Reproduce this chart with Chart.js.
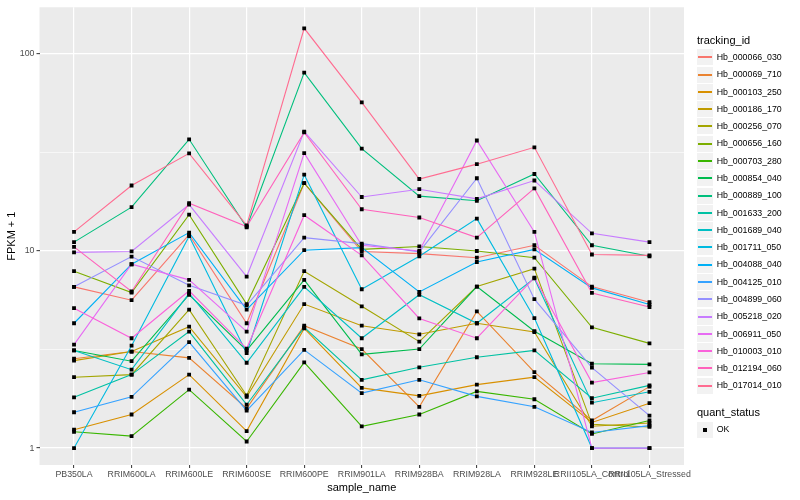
<!DOCTYPE html>
<html><head><meta charset="utf-8">
<script src="https://cdn.jsdelivr.net/npm/chart.js@4/dist/chart.umd.min.js"></script>
<style>
html,body{margin:0;padding:0;background:#fff;}
#wrap{position:relative;width:800px;height:500px;font-family:"Liberation Sans",Arial,Helvetica,sans-serif;overflow:hidden;}
#c{position:absolute;left:0;top:0;width:800px;height:500px;}
.lg{position:absolute;white-space:nowrap;color:#000;}
.key{position:absolute;background:#F2F2F2;}
.kl{position:absolute;}
</style></head><body>
<div id="wrap"><canvas id="c" width="800" height="500"></canvas><div id="legend"></div></div>
<script>
// ---------------- data ----------------
const categories = ['PB350LA','RRIM600LA','RRIM600LE','RRIM600SE','RRIM600PE','RRIM901LA','RRIM928BA','RRIM928LA','RRIM928LE','RRII105LA_Control','RRII105LA_Stressed'];

const Hb_000066_030 = [6.58, 5.63, 12.1, 4.3, 22.1, 9.94, 9.7, 9.25, 10.7, 6.6, 5.5];
const Hb_000069_710 = [2.84, 3.09, 2.87, 1.59, 4.18, 3.18, 1.62, 4.94, 2.43, 1.38, 2.05];
const Hb_000103_250 = [1.24, 1.48, 2.36, 1.22, 4.05, 2.02, 1.84, 2.10, 2.29, 1.35, 1.69];
const Hb_000186_170 = [2.78, 3.09, 4.13, 1.82, 5.38, 4.18, 3.78, 4.3, 3.88, 1.29, 1.34];
const Hb_000256_070 = [2.29, 2.36, 5.04, 1.85, 7.9, 5.24, 3.47, 6.6, 8.14, 1.32, 1.28];
const Hb_000656_160 = [7.9, 6.16, 15.3, 5.38, 22.1, 10.2, 10.55, 10.0, 9.25, 4.1, 3.4];
const Hb_000703_280 = [1.21, 1.15, 1.98, 1.08, 2.72, 1.29, 1.48, 1.94, 1.77, 1.18, 1.38];
const Hb_000854_040 = [3.13, 2.76, 6.0, 3.13, 7.14, 2.99, 3.18, 6.6, 3.92, 2.68, 2.66];
const Hb_000889_100 = [11.1, 16.7, 36.9, 13.2, 80.5, 33.1, 19.0, 18.0, 24.6, 10.7, 9.4];
const Hb_001633_200 = [1.81, 2.36, 3.9, 1.66, 4.1, 2.22, 2.57, 2.89, 3.13, 1.79, 2.08];
const Hb_001689_040 = [3.13, 2.50, 6.1, 2.71, 6.58, 3.61, 6.0, 4.3, 7.26, 1.70, 1.93];
const Hb_001711_050 = [1.0, 3.31, 11.9, 3.03, 24.4, 6.4, 9.4, 14.6, 4.57, 1.0, 1.0];
const Hb_004088_040 = [4.3, 8.57, 12.4, 5.04, 10.1, 10.4, 6.2, 8.8, 10.2, 6.5, 5.35];
const Hb_004125_010 = [1.52, 1.82, 3.45, 1.55, 3.15, 1.90, 2.22, 1.83, 1.62, 1.20, 1.30];
const Hb_004899_060 = [6.58, 9.37, 6.7, 5.3, 11.7, 10.9, 9.9, 23.4, 5.7, 2.56, 1.46];
const Hb_005218_020 = [9.85, 9.95, 17.2, 7.42, 40.4, 18.8, 20.6, 18.4, 22.8, 12.3, 11.1];
const Hb_006911_050 = [3.35, 8.57, 7.14, 3.9, 31.4, 10.7, 10.0, 36.4, 12.5, 1.0, 1.0];
const Hb_010003_010 = [5.13, 3.61, 6.28, 3.2, 15.2, 9.5, 4.55, 3.61, 7.33, 2.15, 2.42];
const Hb_012194_060 = [10.5, 6.23, 17.5, 13.3, 40, 16.3, 14.8, 11.7, 20.8, 6.13, 5.2];
const Hb_017014_010 = [12.5, 21.5, 31.3, 13.5, 135, 56.8, 23.2, 27.6, 33.6, 9.6, 9.5];

const trackingIds = ['Hb_000066_030','Hb_000069_710','Hb_000103_250','Hb_000186_170','Hb_000256_070','Hb_000656_160','Hb_000703_280','Hb_000854_040','Hb_000889_100','Hb_001633_200','Hb_001689_040','Hb_001711_050','Hb_004088_040','Hb_004125_010','Hb_004899_060','Hb_005218_020','Hb_006911_050','Hb_010003_010','Hb_012194_060','Hb_017014_010'];
const seriesValues = [Hb_000066_030,Hb_000069_710,Hb_000103_250,Hb_000186_170,Hb_000256_070,Hb_000656_160,Hb_000703_280,Hb_000854_040,Hb_000889_100,Hb_001633_200,Hb_001689_040,Hb_001711_050,Hb_004088_040,Hb_004125_010,Hb_004899_060,Hb_005218_020,Hb_006911_050,Hb_010003_010,Hb_012194_060,Hb_017014_010];
const seriesColors = ['#F8766D','#EA8331','#D89000','#C09B00','#A3A500','#7CAE00','#39B600','#00BB4E','#00BF7D','#00C1A3','#00BFC4','#00BAE0','#00B0F6','#35A2FF','#9590FF','#C77CFF','#E76BF3','#FA62DB','#FF62BC','#FF6C91'];

const yMajorBreaks = [1, 10, 100];
const yMajorLabels = ['1', '10', '100'];
const yMinorBreaks = [3.16228, 31.6228];
const quantStatus = ['OK'];

// ---------------- chart ----------------
const FONT = '"Liberation Sans", Arial, Helvetica, sans-serif';
const isMajor = v => yMajorBreaks.some(b => Math.abs(b - v) < 1e-6);

const panelBg = {
  id: 'panelBg',
  beforeDraw(chart) {
    const {ctx, chartArea: a} = chart;
    ctx.save();
    ctx.fillStyle = '#EBEBEB';
    ctx.fillRect(a.left, a.top, a.right - a.left, a.bottom - a.top);
    ctx.restore();
  }
};

const lineSets = trackingIds.map((id, i) => ({
  type: 'line',
  label: id,
  data: seriesValues[i].map((v, j) => ({x: j + 1, y: v})),
  borderColor: seriesColors[i],
  backgroundColor: seriesColors[i],
  borderWidth: 1.1,
  pointRadius: 0,
  tension: 0,
  fill: false,
  order: trackingIds.length - i
}));
const pointSet = {
  type: 'line',
  label: quantStatus[0],
  showLine: false,
  data: seriesValues.flatMap(arr => arr.map((v, j) => ({x: j + 1, y: v}))),
  pointStyle: 'rect',
  pointRadius: 2.7,
  pointBackgroundColor: '#000',
  pointBorderWidth: 0,
  borderColor: '#000',
  order: -1
};

new Chart(document.getElementById('c'), {
  type: 'line',
  data: {datasets: [...lineSets, pointSet]},
  plugins: [panelBg],
  options: {
    responsive: false,
    animation: false,
    events: [],
    layout: {padding: {left: 0, right: 116, top: 5, bottom: 0}},
    plugins: {legend: {display: false}, tooltip: {enabled: false}},
    scales: {
      x: {
        type: 'linear',
        min: 0.4,
        max: categories.length + 0.6,
        afterBuildTicks: s => { s.ticks = categories.map((c, i) => ({value: i + 1})); },
        afterFit: s => { s.height = 35; },
        ticks: {
          autoSkip: false, maxRotation: 0, minRotation: 0, padding: 1.5,
          color: '#4D4D4D', font: {family: FONT, size: 8.8},
          callback: v => categories[Math.round(v) - 1] ?? ''
        },
        grid: {color: '#FFFFFF', lineWidth: 1.2, tickLength: 3, tickColor: '#333333', tickWidth: 1},
        border: {display: false},
        title: {display: true, text: 'sample_name', color: '#000', font: {family: FONT, size: 11}, padding: {top: 2, bottom: 5}}
      },
      y: {
        type: 'logarithmic',
        min: 0.8206,
        max: 172.6,
        afterBuildTicks: s => { s.ticks = [...yMajorBreaks, ...yMinorBreaks].sort((a, b) => a - b).map(v => ({value: v})); },
        afterFit: s => { s.width = 39.5; },
        ticks: {
          autoSkip: false, padding: 2,
          color: '#4D4D4D', font: {family: FONT, size: 8.8},
          callback: v => { const k = yMajorBreaks.findIndex(b => Math.abs(b - v) < 1e-6); return k >= 0 ? yMajorLabels[k] : ''; }
        },
        grid: {
          color: '#FFFFFF',
          lineWidth: ctx => (ctx.tick && isMajor(ctx.tick.value)) ? 1.3 : 0.6,
          tickLength: 3,
          tickWidth: 1,
          tickColor: ctx => (ctx.tick && isMajor(ctx.tick.value)) ? '#333333' : 'rgba(0,0,0,0)'
        },
        border: {display: false},
        title: {display: true, text: 'FPKM + 1', color: '#000', font: {family: FONT, size: 11}, padding: {top: 5, bottom: 2}}
      }
    }
  }
});

// ---------------- legend (HTML text) ----------------
const legend = document.getElementById('legend');
function addText(txt, x, yc, size) {
  const d = document.createElement('div');
  d.className = 'lg';
  d.textContent = txt;
  d.style.left = x + 'px';
  d.style.top = (yc - size * 0.6) + 'px';
  d.style.fontSize = size + 'px';
  d.style.lineHeight = (size * 1.2) + 'px';
  legend.appendChild(d);
}
function addBox(yc) {
  const b = document.createElement('div');
  b.className = 'key';
  b.style.left = '697px'; b.style.top = Math.round(yc - 8) + 'px';
  b.style.width = '16px'; b.style.height = '16px';
  legend.appendChild(b);
}
addText('tracking_id', 697, 40.5, 11);
const step = 17.28, y0 = 57.3;
trackingIds.forEach((id, i) => {
  const yc = y0 + i * step;
  addBox(yc);
  const l = document.createElement('div');
  l.className = 'kl';
  l.style.left = '698px'; l.style.top = Math.round(yc - 1) + 'px';
  l.style.width = '14px'; l.style.height = '2px';
  l.style.background = seriesColors[i];
  legend.appendChild(l);
  addText(id, 716.7, yc, 8.8);
});
addText('quant_status', 697, 412.3, 11);
addBox(429.5);
const sq = document.createElement('div');
sq.className = 'kl';
sq.style.left = '703px'; sq.style.top = '428px'; sq.style.width = '4px'; sq.style.height = '4px'; sq.style.background = '#000';
legend.appendChild(sq);
addText(quantStatus[0], 716.7, 429.5, 8.8);
</script>
</body></html>
